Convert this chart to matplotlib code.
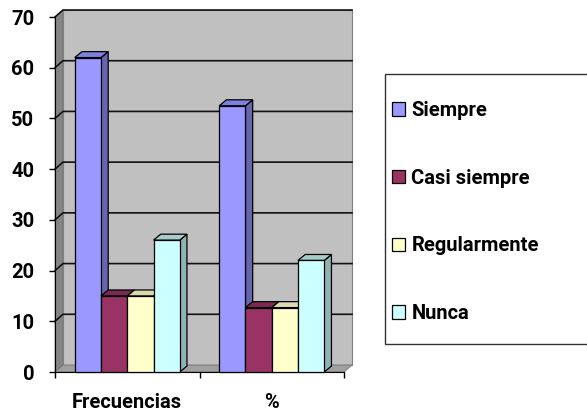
import matplotlib
matplotlib.use("Agg")
import matplotlib.pyplot as plt
from matplotlib.patches import Polygon, Rectangle
from matplotlib.lines import Line2D
import numpy as np

categories = ["Frecuencias", "%"]
series_names = ["Siempre", "Casi siempre", "Regularmente", "Nunca"]
siempre = [62, 52.5]
casi_siempre = [15, 12.7]
regularmente = [15, 12.7]
nunca = [26, 22.0]
yticks = [0, 10, 20, 30, 40, 50, 60, 70]

front_colors = ["#9999FF", "#993366", "#FFFFCC", "#CCFFFF"]
side_colors = ["#6666B0", "#6B2447", "#B3B38F", "#8FB3B3"]
top_colors = ["#7F7FDD", "#7A2952", "#D9D9AD", "#A6CCCC"]

FONT = ["Roboto", "DejaVu Sans"]
FS = 14.5
plt.rcParams["font.family"] = FONT
plt.rcParams["font.weight"] = "bold"

W, H = 587, 412
fig = plt.figure(figsize=(W / 100, H / 100), dpi=100)
ax_l, ax_r, ax_b, ax_t = 55, 344, 372, 17
ax = fig.add_axes([ax_l / W, (H - ax_b) / H, (ax_r - ax_l) / W, (ax_b - ax_t) / H])
ax.set_xlim(0, 2)
ax.set_ylim(0, 70)
ax.patch.set_visible(False)

# depth offset in pixels -> data units
px_x = (ax_r - ax_l) / 2.0
px_y = (ax_b - ax_t) / 70.0
dxd = 8 / px_x
dyd = 7 / px_y

# walls
left_wall = Polygon([(0, 0), (0, 70), (dxd, 70 + dyd), (dxd, dyd)], closed=True,
                    facecolor="#858585", edgecolor="#707070", lw=0.6, zorder=0, clip_on=False)
back_wall = Polygon([(dxd, dyd), (dxd, 70 + dyd), (2 + dxd, 70 + dyd), (2 + dxd, dyd)], closed=True,
                    facecolor="#C0C0C0", edgecolor="#808080", lw=0.8, zorder=0, clip_on=False)
floor = Polygon([(0, 0), (2, 0), (2 + dxd, dyd), (dxd, dyd)], closed=True,
                facecolor="#A0A0A0", edgecolor="#707070", lw=0.6, zorder=0.5, clip_on=False)
for p in (left_wall, back_wall, floor):
    ax.add_patch(p)
for v in yticks[1:]:
    ax.add_line(Line2D([0, dxd, 2 + dxd], [v, v + dyd, v + dyd], color="#111111", lw=1.2,
                       zorder=1, clip_on=False))

# bars
x = np.arange(len(categories)) + 0.5
bw = 0.1817
data = [siempre, casi_siempre, regularmente, nunca]
handles = []
for i, vals in enumerate(data):
    pos = x + (i - 1.5) * bw
    bars = ax.bar(pos, vals, width=bw, color=front_colors[i], edgecolor="black", lw=0.9,
                  label=series_names[i], clip_on=False)
    handles.append(bars)
    for j, b in enumerate(bars):
        zb = 3 + j * 1 + i * 0.1
        x0, w, h = b.get_x(), b.get_width(), b.get_height()
        side = Polygon([(x0 + w, 0), (x0 + w, h), (x0 + w + dxd * 0.9, h + dyd * 0.85),
                        (x0 + w + dxd * 0.9, dyd * 0.85)], closed=True,
                       facecolor=side_colors[i], edgecolor="black", lw=0.9, zorder=zb, clip_on=False)
        top = Polygon([(x0, h), (x0 + w, h), (x0 + w + dxd * 0.9, h + dyd * 0.85),
                       (x0 + dxd * 0.9, h + dyd * 0.85)], closed=True,
                      facecolor=top_colors[i], edgecolor="black", lw=0.9, zorder=zb, clip_on=False)
        ax.add_patch(side)
        ax.add_patch(top)
        b.set_zorder(zb + 0.05)

# axes styling
for s in ("top", "right"):
    ax.spines[s].set_visible(False)
ax.spines["left"].set_zorder(2)
ax.spines["bottom"].set_zorder(2)
ax.set_yticks(yticks)
ax.set_yticklabels([str(v) for v in yticks])
ax.tick_params(axis="y", length=4, width=1, pad=11, labelsize=FS)
ax.set_xticks([0, 1, 2])
ax.set_xticklabels(["", "", ""])
ax.set_xticks(x, minor=True)
ax.set_xticklabels(categories, minor=True)
ax.tick_params(axis="x", which="major", length=4.5, width=1)
ax.tick_params(axis="x", which="minor", length=0, pad=15, labelsize=FS)
for lab in ax.get_yticklabels() + ax.get_xticklabels(minor=True):
    lab.set_fontweight("bold")

# legend
fig.add_artist(Rectangle((385 / W, (H - 344) / H), 250 / W, 270 / H, transform=fig.transFigure,
                         facecolor="white", edgecolor="#333333", lw=1, zorder=0))
leg = fig.legend(handles, series_names, loc="upper left",
                 bbox_to_anchor=(392 / W, 1 - 101 / H), frameon=False, borderpad=0,
                 borderaxespad=0, labelspacing=2.42, handlelength=0.66, handleheight=0.66,
                 handletextpad=0.3, prop={"family": FONT, "weight": "bold", "size": FS})

fig.savefig("out.png", dpi=100)
